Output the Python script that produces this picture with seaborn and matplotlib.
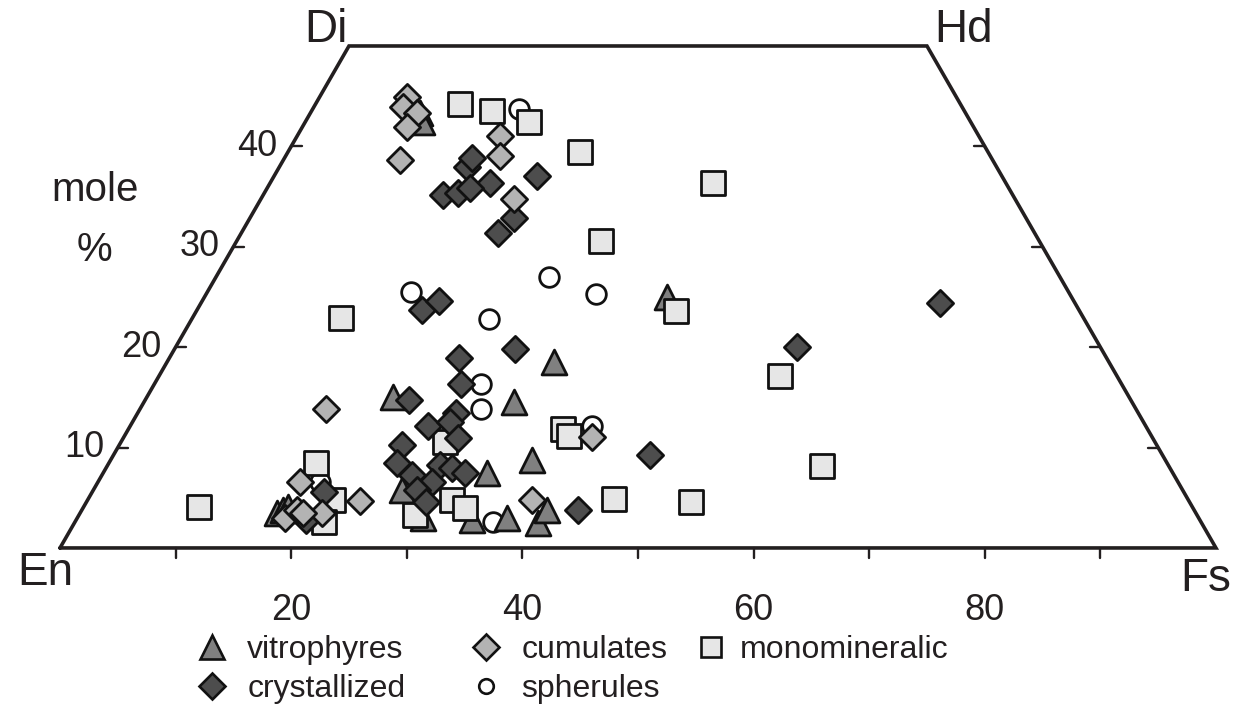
import matplotlib
matplotlib.use("Agg")
import matplotlib.pyplot as plt
import seaborn as sns
from matplotlib.lines import Line2D

# Pyroxene compositions (mole %): ferrosilite (Fs) and wollastonite (Wo) per sample group
vitro_fs = [9.5, 10.1, 40.0, 33.5, 32.0, 21.3, 33.2, 26.7, 29.9, 34.2, 37.2, 36.4, 40.1, 40.2, 17.0, 17.4, 17.7]
vitro_wo = [43.3, 42.4, 25.0, 18.5, 14.5, 15.0, 7.5, 5.8, 3.0, 2.8, 3.0, 8.8, 2.5, 3.8, 3.5, 3.8, 4.1]

cryst_fs = [15.5, 16.7, 16.3, 16.2, 19.0, 17.5, 22.8, 22.8, 22.2, 19.5, 20.5, 25.1, 26.5, 29.5, 22.8, 25.8, 27.6,
            27.5, 28.9, 24.4, 24.9, 26.8, 28.7, 29.9, 31.3, 28.9, 28.0, 29.4, 46.4, 42.9, 53.8, 63.9, 20.0, 19.9]
cryst_wo = [35.2, 35.4, 37.9, 38.8, 36.4, 35.9, 37.0, 32.9, 31.4, 23.7, 24.6, 18.9, 16.3, 19.8, 14.7, 12.1, 13.4,
            12.5, 11.0, 10.3, 8.5, 7.3, 8.3, 8.0, 7.5, 6.6, 5.8, 4.6, 9.3, 3.8, 20.0, 24.4, 5.6, 2.8]

cumul_fs = [7.6, 7.7, 9.2, 9.1, 10.1, 17.6, 18.6, 21.9, 16.1, 17.5, 23.6, 20.9, 18.0, 18.6, 19.3, 38.4, 40.5]
cumul_wo = [44.9, 43.9, 43.3, 41.9, 38.6, 41.0, 39.0, 34.8, 13.8, 6.6, 4.7, 3.5, 3.0, 3.8, 3.5, 4.8, 11.1]

spher_fs = [17.9, 17.6, 28.8, 33.7, 25.7, 28.3, 29.5, 36.2, 40.0, 19.2]
spher_wo = [43.7, 25.5, 27.0, 25.3, 22.8, 16.3, 13.8, 2.6, 12.1, 6.6]

mono_fs = [12.5, 15.6, 19.4, 25.3, 38.3, 31.5, 12.9, 41.5, 53.7, 61.8, 52.3, 45.5, 37.6, 38.4, 31.5, 33.0,
           29.1, 28.0, 10.0, 17.9, 21.2, 21.5]
mono_wo = [44.2, 43.5, 42.4, 39.4, 36.4, 30.6, 22.9, 23.6, 17.1, 8.2, 4.6, 4.9, 11.8, 11.2, 4.8, 4.0,
           3.3, 10.6, 4.1, 8.5, 4.8, 2.6]

group_labels = ["vitrophyres", "crystallized", "cumulates", "spherules", "monomineralic"]
bottom_ticks = [20, 40, 60, 80]
side_ticks = [10, 20, 30, 40]

INK = "#231f20"
EDGE = "#111111"

sns.set_theme(style="white")
plt.rcParams["font.family"] = ["Liberation Sans", "DejaVu Sans"]

fig = plt.figure(figsize=(12.43, 7.11), dpi=100)
ax = fig.add_axes([0, 0, 1, 1])
ax.set_xlim(-5.19, 102.34)
ax.set_ylim(-16.24, 54.58)
ax.axis("off")


def horiz(fs, wo):
    """Horizontal position in the En-Di-Hd-Fs quadrilateral."""
    return [f + w / 2.0 for f, w in zip(fs, wo)]


# quadrilateral outline
ax.plot([0, 25, 75, 100, 0], [0, 50, 50, 0, 0], color=INK, lw=2.6, solid_joinstyle="miter", zorder=1)

# ticks along the En-Fs join
for t in range(10, 100, 10):
    ax.plot([t, t], [0, -1.0], color=INK, lw=1.7, zorder=1)
# ticks along the side joins (pointing inward)
for w in side_ticks:
    ax.plot([w / 2, w / 2 + 0.9], [w, w], color=INK, lw=1.7, zorder=1)
    ax.plot([100 - w / 2, 100 - w / 2 - 0.9], [w, w], color=INK, lw=1.7, zorder=1)

tick_fs = 26
for t in bottom_ticks:
    ax.text(t, -6.2, str(t), ha="center", va="center", fontsize=tick_fs, color=INK)
for w in side_ticks:
    ax.text(w / 2 - 1.2, w, str(w), ha="right", va="center", fontsize=tick_fs, color=INK)

ax.text(3.0, 35.7, "mole", ha="center", va="center", fontsize=29, color=INK)
ax.text(3.0, 29.7, "%", ha="center", va="center", fontsize=29, color=INK)

corner_fs = 33
ax.text(23.0, 51.6, "Di", ha="center", va="center", fontsize=corner_fs, color=INK)
ax.text(78.2, 51.6, "Hd", ha="center", va="center", fontsize=corner_fs, color=INK)
ax.text(-1.3, -2.5, "En", ha="center", va="center", fontsize=corner_fs, color=INK)
ax.text(99.1, -3.1, "Fs", ha="center", va="center", fontsize=corner_fs, color=INK)

styles = {
    "spherules": dict(marker="o", s=200, color="white"),
    "vitrophyres": dict(marker="^", s=320, color="#808080"),
    "monomineralic": dict(marker="s", s=280, color="#e6e6e6"),
    "crystallized": dict(marker="D", s=178, color="#4d4d4d"),
    "cumulates": dict(marker="D", s=178, color="#b3b3b3"),
}
data = {
    "vitrophyres": (vitro_fs, vitro_wo),
    "crystallized": (cryst_fs, cryst_wo),
    "cumulates": (cumul_fs, cumul_wo),
    "spherules": (spher_fs, spher_wo),
    "monomineralic": (mono_fs, mono_wo),
}

for z, name in enumerate(["spherules", "vitrophyres", "monomineralic", "crystallized", "cumulates"]):
    fs, wo = data[name]
    st = styles[name]
    sns.scatterplot(x=horiz(fs, wo), y=wo, ax=ax, marker=st["marker"], s=st["s"],
                    color=st["color"], edgecolor=EDGE, linewidth=2.0, zorder=3 + z, legend=False)


def handle(name, ms):
    st = styles[name]
    return Line2D([], [], ls="none", marker=st["marker"], markersize=ms,
                  markerfacecolor=st["color"], markeredgecolor=EDGE, markeredgewidth=1.9)


leg_kw = dict(frameon=False, fontsize=23, handletextpad=0.5, labelspacing=0.28,
              borderpad=0, handlelength=1.2, labelcolor=INK)
leg1 = ax.legend([handle("vitrophyres", 17), handle("crystallized", 13)],
                 ["vitrophyres", "crystallized"], loc="upper left",
                 bbox_to_anchor=(177 / 1243, 1 - 619 / 711), bbox_transform=fig.transFigure, **leg_kw)
ax.add_artist(leg1)
leg2 = ax.legend([handle("cumulates", 13), handle("spherules", 10.5)],
                 ["cumulates", "spherules"], loc="upper left",
                 bbox_to_anchor=(451 / 1243, 1 - 619 / 711), bbox_transform=fig.transFigure, **leg_kw)
ax.add_artist(leg2)
leg3 = ax.legend([handle("monomineralic", 15)], ["monomineralic"], loc="upper left",
                 bbox_to_anchor=(676 / 1243, 1 - 619 / 711), bbox_transform=fig.transFigure,
                 **{**leg_kw, "handletextpad": 0.3})

fig.savefig("out.png", dpi=100, facecolor="white")
